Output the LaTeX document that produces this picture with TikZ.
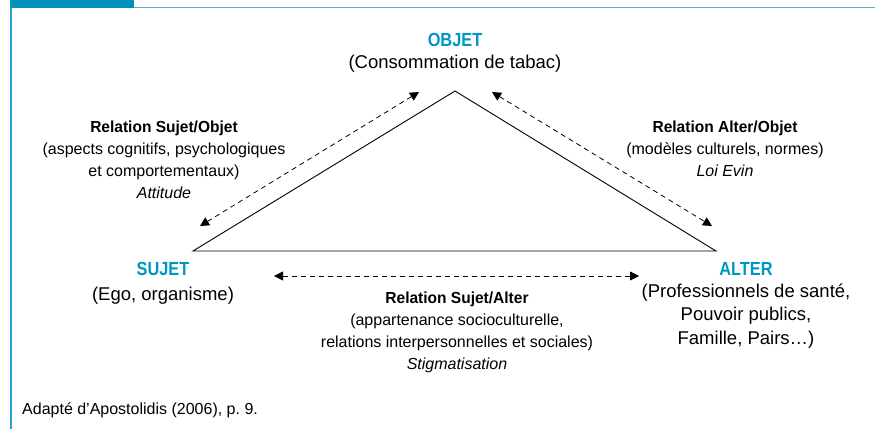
\documentclass[tikz,border=0pt]{standalone}
\usepackage{fontspec}
\setmainfont{Liberation Sans}
\newfontfamily\polefont[FakeStretch=0.86]{Liberation Sans}
\newfontfamily\relfont[FakeStretch=0.97]{Liberation Sans}
\usepackage{xcolor}
\usepackage{tikz}
\usetikzlibrary{positioning}
\usetikzlibrary{arrows.meta}
\pgfdeclarelayer{nodelayer}
\pgfdeclarelayer{edgelayer}
\pgfsetlayers{nodelayer,edgelayer,main}
\definecolor{poleblue}{HTML}{0096C1}
\definecolor{bandblue}{HTML}{0092BB}
\definecolor{ruleblue}{HTML}{55B1C9}
\definecolor{edgeblue}{HTML}{2A9FD0}
\tikzset{
    none/.style = {inner sep=0pt},
    pole/.style = {inner sep=0pt, anchor=base, text=poleblue, font=\polefont\bfseries\fontsize{19}{23}\selectfont},
    big/.style = {inner sep=0pt, anchor=base, align=center, font=\fontsize{18.5}{23.5}\selectfont},
    rel/.style = {inner sep=0pt, anchor=base, align=center, font=\fontsize{16}{22}\selectfont},
    relarrow/.style = {dash pattern=on 5pt off 4pt, line width=0.8pt,
        {Triangle[length=9pt,width=9pt]}-{Triangle[length=9pt,width=9pt]}}
}

\begin{document}
\begin{tikzpicture}[x=1pt, y=-1pt]
  \useasboundingbox (0,0) rectangle (875,429);
  % frame
  \fill [bandblue] (10,0) rectangle (134,7.5);
  \draw [ruleblue, line width=1.5pt] (134,7.3) -- (875,7.3);
  \draw [edgeblue, line width=1.5pt] (10.8,7) -- (10.8,429);
  \begin{pgfonlayer}{nodelayer}
    % poles (base = last line)
    \node [pole] (0) at (455,46) {OBJET};
    \node [big] (1) at (455,68) {(Consommation de tabac)};
    \node [pole] (5) at (163,275) {SUJET};
    \node [big] (6) at (163,300) {(Ego, organisme)};
    \node [pole] (7) at (746,275) {ALTER};
    \node [big] (8) at (746,344) {(Professionnels de sant\'e,\\Pouvoir publics,\\Famille, Pairs\ldots)};
    % relations
    \node [rel] (9) at (164,198) {{\relfont\bfseries Relation Sujet/Objet}\\(aspects cognitifs, psychologiques\\et comportementaux)\\\textit{Attitude}};
    \node [rel] (10) at (725,176) {{\relfont\bfseries Relation Alter/Objet}\\(mod\`eles culturels, normes)\\\textit{Loi Evin}};
    \node [rel] (11) at (457,369) {{\relfont\bfseries Relation Sujet/Alter}\\(appartenance socioculturelle,\\relations interpersonnelles et sociales)\\\textit{Stigmatisation}};
    \node [rel, anchor=base west] (12) at (22,414) {Adapt\'e d'Apostolidis (2006), p.~9.};
    % corners and arrow ends
    \node [style=none] (2) at (455,91) {};
    \node [style=none] (3) at (193,251) {};
    \node [style=none] (4) at (716,251) {};
    \node [style=none] (13) at (200,226) {};
    \node [style=none] (14) at (419,92) {};
    \node [style=none] (15) at (492,92) {};
    \node [style=none] (16) at (712,226) {};
    \node [style=none] (17) at (274,276) {};
    \node [style=none] (18) at (639,276) {};
  \end{pgfonlayer}
  \begin{pgfonlayer}{edgelayer}
    \draw [line width=0.9pt] (3.center) to (2.center) to (4.center) to cycle;
    \draw [relarrow] (13.center) to (14.center);
    \draw [relarrow] (15.center) to (16.center);
    \draw [relarrow] (17.center) to (18.center);
  \end{pgfonlayer}
\end{tikzpicture}
\end{document}
